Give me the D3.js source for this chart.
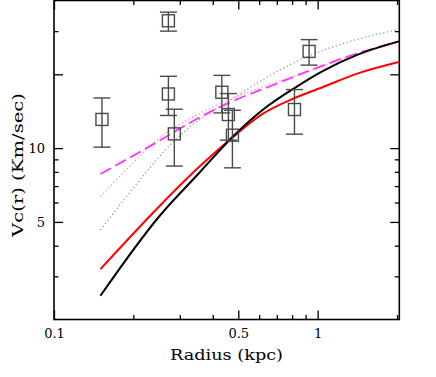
<!DOCTYPE html>
<html>
<head>
<meta charset="utf-8">
<script src="https://cdn.jsdelivr.net/npm/d3@7"></script>
<style>
  body { margin: 0; background: #fff; }
  svg { display: block; }
  text { font-family: "DejaVu Serif", "Liberation Serif", serif; fill: #000; }
</style>
</head>
<body>
<svg id="chart" width="436" height="377"></svg>
<script>
// ---- data ----
const obsRadius = [0.152, 0.2716, 0.2716, 0.286, 0.433, 0.4586, 0.475, 0.8166, 0.928];
const obsVc     = [13.09, 33.07, 16.63, 11.43, 16.9, 13.71, 11.29, 14.37, 24.8];
const obsLow    = [10.09, 30.0, 13.59, 8.45, 13.92, 10.78, 8.31, 11.4, 21.8];
const obsHigh   = [16.02, 35.85, 19.63, 14.41, 19.8, 16.69, 14.27, 17.33, 27.7];

const blackR = [0.15, 0.25, 0.358, 0.474, 0.616, 0.814, 1.049, 1.412, 2.03];
const blackV = [2.5, 5.25, 7.99, 11.08, 14.27, 17.54, 20.67, 24.01, 27.25];

const redR = [0.15, 0.25, 0.358, 0.474, 0.616, 0.814, 1.049, 1.412, 2.03];
const redV = [3.21, 5.77, 8.45, 11.03, 13.75, 15.97, 17.76, 20.13, 22.45];

const magentaR = [0.15, 0.2314, 0.358, 0.466, 0.66, 0.9365, 1.412, 2.03];
const magentaV = [7.84, 10.19, 13.37, 15.39, 17.88, 20.76, 24.35, 27.25];

const pinkR = [0.15, 0.194, 0.259, 0.358, 0.466, 0.66, 0.9365, 1.412, 2.03];
const pinkV = [6.34, 8.47, 11.29, 13.88, 15.83, 18.22, 20.67, 24.12, 26.82];

const grayR = [0.15, 0.2274, 0.2638, 0.283, 0.328, 0.466, 0.786, 1.049, 1.412, 2.03];
const grayV = [4.64, 8.14, 9.81, 10.58, 12.21, 15.68, 21.9, 25.05, 27.77, 30.49];

const xMajorTicks = [0.1, 0.5, 1];
const xMajorLabels = ["0.1", "0.5", "1"];
const xMinorTicks = [0.2, 0.3, 0.4, 0.6, 0.7, 0.8, 0.9, 2];
const yMajorTicks = [5, 10, 20];
const yMajorLabels = ["5", "10", ""];
const yMinorTicks = [3, 4, 6, 7, 8, 9, 30];

const xTitle = "Radius (kpc)";
const yTitle = "Vc(r) (Km/sec)";

// ---- layout ----
const L = 54, R = 399.3, T = 0.5, B = 319.5;
const svg = d3.select("#chart");

const x = d3.scaleLog().domain([0.1, 2.04]).range([L, R]);
const y = d3.scaleLog().domain([2, 40]).range([B, T]);

const MAJ = 9, MIN = 4.5;

function styleAxis(g) {
  g.select(".domain").remove();
  g.selectAll(".tick line").attr("stroke", "#000").attr("stroke-width", 1.3);
  g.selectAll(".tick text").style("font-family", "DejaVu Serif, serif").style("font-size", "13px").attr("fill", "#000");
}

// bottom
svg.append("g").attr("transform", `translate(0,${B})`)
  .call(d3.axisBottom(x).tickValues(xMajorTicks).tickSize(-MAJ).tickPadding(9)
    .tickFormat((d, i) => xMajorLabels[i])).call(styleAxis);
svg.append("g").attr("transform", `translate(0,${B})`)
  .call(d3.axisBottom(x).tickValues(xMinorTicks).tickSize(-MIN).tickFormat("")).call(styleAxis);
// top
svg.append("g").attr("transform", `translate(0,${T})`)
  .call(d3.axisTop(x).tickValues(xMajorTicks).tickSize(-MAJ).tickFormat("")).call(styleAxis);
svg.append("g").attr("transform", `translate(0,${T})`)
  .call(d3.axisTop(x).tickValues(xMinorTicks).tickSize(-MIN).tickFormat("")).call(styleAxis);
// left
svg.append("g").attr("transform", `translate(${L},0)`)
  .call(d3.axisLeft(y).tickValues(yMajorTicks).tickSize(-MAJ).tickPadding(9)
    .tickFormat((d, i) => yMajorLabels[i])).call(styleAxis);
svg.append("g").attr("transform", `translate(${L},0)`)
  .call(d3.axisLeft(y).tickValues(yMinorTicks).tickSize(-MIN).tickFormat("")).call(styleAxis);
// right
svg.append("g").attr("transform", `translate(${R},0)`)
  .call(d3.axisRight(y).tickValues(yMajorTicks).tickSize(-MAJ).tickFormat("")).call(styleAxis);
svg.append("g").attr("transform", `translate(${R},0)`)
  .call(d3.axisRight(y).tickValues(yMinorTicks).tickSize(-MIN).tickFormat("")).call(styleAxis);

// frame
svg.append("rect").attr("x", L).attr("y", T).attr("width", R - L).attr("height", B - T)
  .attr("fill", "none").attr("stroke", "#000").attr("stroke-width", 1.6);

// ---- curves ----
const line = d3.line().x(d => x(d[0])).y(d => y(d[1])).curve(d3.curveMonotoneX);
function drawCurve(rs, vs, color, width, dash) {
  const p = svg.append("path").datum(rs.map((r, i) => [r, vs[i]]))
    .attr("d", line).attr("fill", "none").attr("stroke", color).attr("stroke-width", width)
    .attr("stroke-linejoin", "round");
  if (dash) p.attr("stroke-dasharray", dash);
}
drawCurve(grayR, grayV, "#9a9a9a", 1.2, "1.4,2.4");
drawCurve(pinkR, pinkV, "#ff9c9c", 1.2, "1.4,2.4");
drawCurve(magentaR, magentaV, "#ff33ff", 1.8, "12,5");
drawCurve(redR, redV, "#ff0000", 2);
drawCurve(blackR, blackV, "#000000", 2);

// ---- observed points with error bars ----
const pts = obsRadius.map((r, i) => ({ r, v: obsVc[i], lo: obsLow[i], hi: obsHigh[i] }));
const g = svg.append("g").attr("stroke", "#4a4a4a").attr("stroke-width", 1.4).attr("fill", "none");
const CAP = 8.5, SQ = 6;
pts.forEach(p => {
  const cx = x(p.r);
  g.append("line").attr("x1", cx).attr("x2", cx).attr("y1", y(p.lo)).attr("y2", y(p.hi));
  g.append("line").attr("x1", cx - CAP).attr("x2", cx + CAP).attr("y1", y(p.lo)).attr("y2", y(p.lo));
  g.append("line").attr("x1", cx - CAP).attr("x2", cx + CAP).attr("y1", y(p.hi)).attr("y2", y(p.hi));
  g.append("rect").attr("x", cx - SQ).attr("y", y(p.v) - SQ).attr("width", 2 * SQ).attr("height", 2 * SQ);
});

// ---- axis titles ----
svg.append("text").attr("x", 226.5).attr("y", 360).attr("text-anchor", "middle")
  .style("font-size", "14.5px").attr("textLength", 113).attr("lengthAdjust", "spacingAndGlyphs")
  .text(xTitle);
svg.append("text").attr("transform", "translate(23,165) rotate(-90)").attr("text-anchor", "middle")
  .style("font-size", "14.5px").attr("textLength", 144).attr("lengthAdjust", "spacingAndGlyphs")
  .text(yTitle);
</script>
</body>
</html>
